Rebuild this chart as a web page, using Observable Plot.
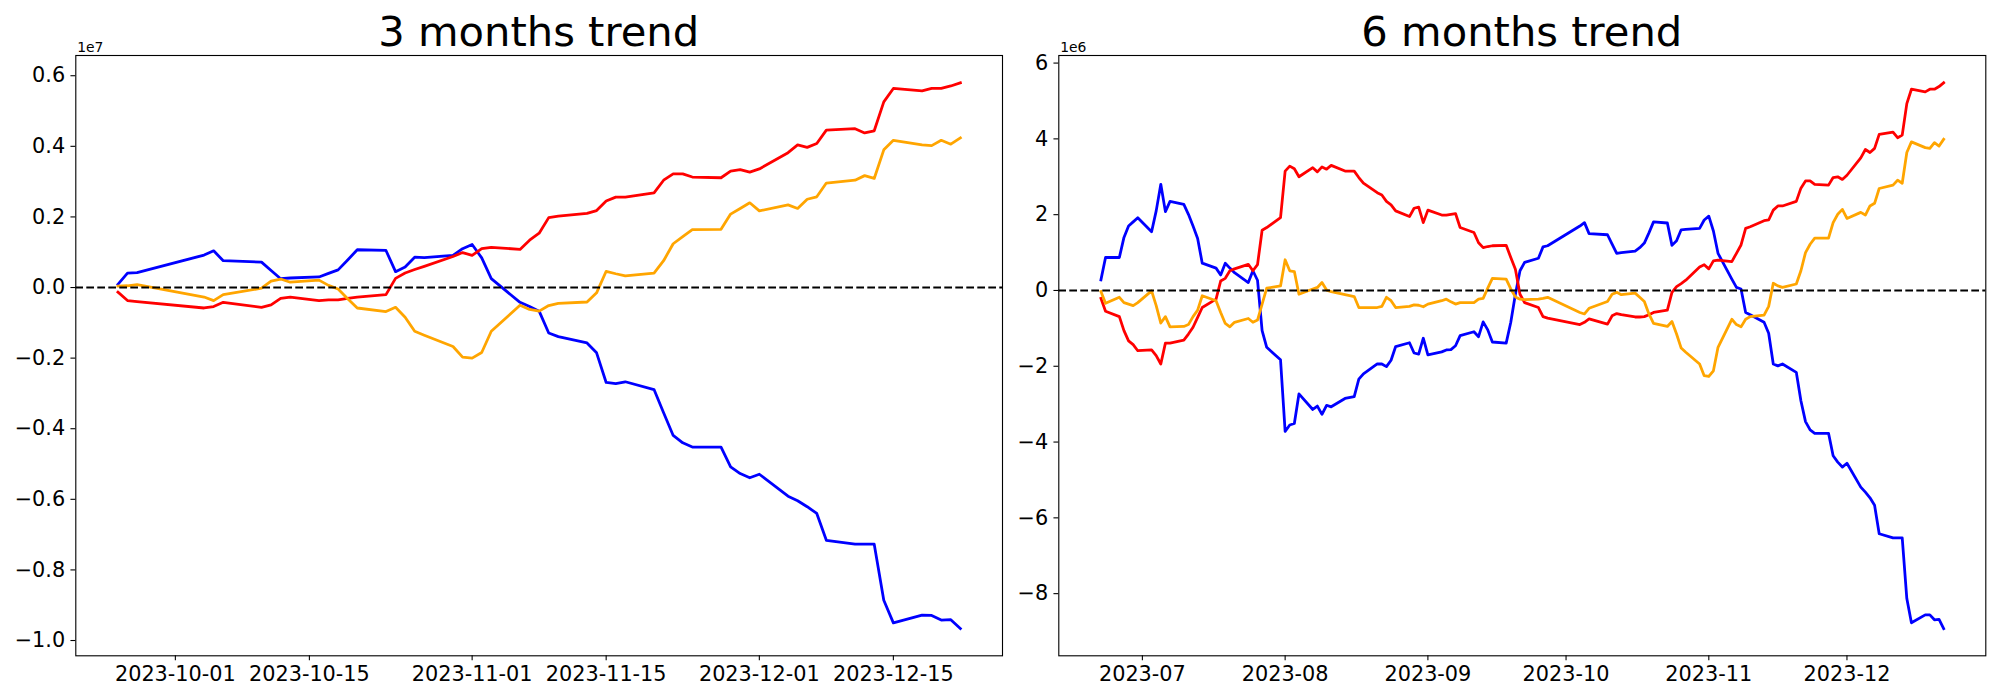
<!DOCTYPE html>
<html>
<head>
<meta charset="utf-8">
<script src="https://cdn.jsdelivr.net/npm/d3@7"></script>
<script src="https://cdn.jsdelivr.net/npm/@observablehq/plot@0.6"></script>
<style>
  body { margin: 0; background: #fff; }
  #wrap { position: relative; width: 2000px; height: 700px; overflow: hidden; font-family: "DejaVu Sans"; background: #fff; }
  .title { position: absolute; font-family: "DejaVu Sans"; font-size: 41.67px; line-height: 41.67px; color: #000; white-space: nowrap; transform: translateX(-50%); z-index: 2; }
  .chart { position: absolute; top: 40px; }
</style>
</head>
<body>
<div id="wrap">
  <div id="c1" class="chart" style="left:0px;width:1010px"></div>
  <div id="c2" class="chart" style="left:1010px;width:990px"></div>
  <div class="title" style="left:538.7px;top:11.4px">3 months trend</div>
  <div class="title" style="left:1521.8px;top:11.4px">6 months trend</div>
</div>
<script>
// ---- categories: trading days (Korean market calendar) ----
const holidays = ["2023-08-15", "2023-09-28", "2023-09-29", "2023-10-02", "2023-10-03", "2023-10-09"];
const range3m = ["2023-09-25", "2023-12-22"];
const range6m = ["2023-06-22", "2023-12-22"];

// ---- tick labels ----
const xTicks3m = ["2023-10-01", "2023-10-15", "2023-11-01", "2023-11-15", "2023-12-01", "2023-12-15"];
const xTicks6m = ["2023-07-01", "2023-08-01", "2023-09-01", "2023-10-01", "2023-11-01", "2023-12-01"];
const yTicks3m = [-1.0, -0.8, -0.6, -0.4, -0.2, 0.0, 0.2, 0.4, 0.6];
const yTicks6m = [-8, -6, -4, -2, 0, 2, 4, 6];

// ---- 3 months series (units of 1e7) ----
const red3m = [
  -0.013, -0.037, -0.040,
  -0.058, -0.054, -0.042, -0.056, -0.049, -0.031, -0.027, -0.037, -0.035, -0.035, -0.031, -0.027, -0.020, 0.026, 0.041, 0.051, 0.060, 0.088, 0.099,
  0.091, 0.110, 0.114, 0.108, 0.134, 0.154, 0.198, 0.202, 0.210, 0.218, 0.245, 0.256, 0.256, 0.268, 0.304, 0.322, 0.322, 0.313, 0.311, 0.330, 0.334, 0.327,
  0.336, 0.382, 0.404, 0.397, 0.408, 0.446, 0.450, 0.438, 0.444, 0.526, 0.564, 0.557, 0.564, 0.564, 0.571, 0.580
];
const orange3m = [
  0.004, 0.005, 0.008,
  -0.027, -0.037, -0.020, -0.002, 0.018, 0.024, 0.015, 0.021, 0.006, -0.004, -0.032, -0.058, -0.068, -0.056, -0.084, -0.124, -0.135, -0.167, -0.197,
  -0.200, -0.184, -0.124, -0.050, -0.062, -0.067, -0.051, -0.045, -0.041, -0.015, 0.046, 0.039, 0.033, 0.041, 0.076, 0.124, 0.144, 0.164, 0.165, 0.208, 0.224, 0.240,
  0.217, 0.234, 0.224, 0.250, 0.257, 0.296, 0.304, 0.317, 0.309, 0.390, 0.417, 0.404, 0.402, 0.417, 0.406, 0.424
];
const blue3m = [
  0.009, 0.041, 0.042,
  0.092, 0.104, 0.076, 0.072, 0.048, 0.025, 0.027, 0.030, 0.040, 0.050, 0.078, 0.107, 0.105, 0.045, 0.058, 0.086, 0.085, 0.091, 0.110,
  0.122, 0.084, 0.025, -0.042, -0.054, -0.067, -0.129, -0.139, -0.157, -0.185, -0.269, -0.272, -0.267, -0.289, -0.355, -0.419, -0.440, -0.452, -0.452, -0.508, -0.527, -0.539,
  -0.529, -0.591, -0.604, -0.621, -0.640, -0.716, -0.727, -0.727, -0.727, -0.886, -0.950, -0.928, -0.929, -0.942, -0.941, -0.966
];

// ---- 6 months series (units of 1e6) ----
const red6m = [
  -0.21, -0.55, -0.69, -1.06, -1.33, -1.43, -1.59,
  -1.57, -1.72, -1.94, -1.39, -1.39, -1.31, -1.15, -0.97, -0.71, -0.45, -0.23, 0.25, 0.32, 0.52, 0.57, 0.69, 0.52, 0.68, 1.59, 1.66, 1.92,
  3.15, 3.28, 3.21, 3.00, 3.24, 3.13, 3.26, 3.20, 3.30, 3.15, 3.15, 2.98, 2.83, 2.58, 2.52, 2.35, 2.26, 2.10, 1.95, 2.17, 2.20, 1.79,
  2.12, 1.99, 1.99, 2.01, 2.03, 1.66, 1.53, 1.26, 1.13, 1.16, 1.18, 1.19, 0.87, 0.56, -0.10, -0.32, -0.45, -0.69, -0.73,
  -0.90, -0.84, -0.75, -0.89, -0.67, -0.61, -0.64, -0.70, -0.70, -0.69, -0.64, -0.58, -0.52, -0.05, 0.10, 0.18, 0.27, 0.62, 0.68,
  0.57, 0.78, 0.80, 0.76, 0.98, 1.20, 1.64, 1.68, 1.84, 1.86, 2.12, 2.23, 2.23, 2.35, 2.70, 2.89, 2.89, 2.80, 2.78, 2.98, 3.00, 2.93,
  3.04, 3.50, 3.72, 3.64, 3.75, 4.12, 4.18, 4.03, 4.10, 4.93, 5.31, 5.24, 5.31, 5.31, 5.38, 5.48
];
const orange6m = [
  -0.03, -0.34, -0.18, -0.32, -0.36, -0.40, -0.32,
  -0.01, -0.40, -0.86, -0.69, -0.96, -0.95, -0.90, -0.69, -0.52, -0.14, -0.27, -0.58, -0.87, -0.96, -0.84, -0.74, -0.84, -0.78, -0.36, 0.06, 0.12,
  0.81, 0.52, 0.50, -0.10, 0.04, 0.08, 0.21, 0.01, -0.03, -0.11, -0.16, -0.45, -0.45, -0.45, -0.42, -0.18, -0.27, -0.45, -0.42, -0.38, -0.39, -0.43,
  -0.36, -0.27, -0.23, -0.30, -0.36, -0.32, -0.32, -0.23, -0.21, 0.06, 0.32, 0.30, 0.04, -0.17, -0.23, -0.24, -0.23, -0.21, -0.18,
  -0.58, -0.62, -0.47, -0.29, -0.10, -0.05, -0.11, -0.07, -0.18, -0.29, -0.62, -0.87, -0.95, -0.82, -1.15, -1.52, -1.63, -1.94, -2.25,
  -2.27, -2.12, -1.50, -0.76, -0.90, -0.96, -0.76, -0.69, -0.65, -0.42, 0.19, 0.12, 0.08, 0.17, 0.52, 1.00, 1.22, 1.38, 1.38, 1.79, 2.01, 2.14,
  1.90, 2.06, 1.99, 2.23, 2.30, 2.69, 2.78, 2.91, 2.83, 3.64, 3.92, 3.77, 3.75, 3.90, 3.81, 3.99
];
const blue6m = [
  0.28, 0.87, 0.87, 1.40, 1.70, 1.81, 1.92,
  1.55, 2.10, 2.80, 2.08, 2.35, 2.27, 2.01, 1.70, 1.37, 0.72, 0.59, 0.41, 0.72, 0.59, 0.47, 0.21, 0.52, 0.27, -1.06, -1.50, -1.83,
  -3.72, -3.55, -3.51, -2.73, -3.14, -3.05, -3.27, -3.03, -3.07, -2.85, -2.80, -2.34, -2.20, -1.94, -1.94, -2.01, -1.84, -1.48, -1.38, -1.65, -1.68, -1.26,
  -1.70, -1.62, -1.57, -1.56, -1.46, -1.19, -1.09, -1.22, -0.83, -1.04, -1.36, -1.39, -0.84, -0.10, 0.52, 0.74, 0.85, 1.15, 1.18,
  1.70, 1.79, 1.50, 1.47, 1.22, 0.98, 1.00, 1.04, 1.13, 1.25, 1.52, 1.81, 1.78, 1.19, 1.31, 1.60, 1.61, 1.64, 1.86,
  1.96, 1.57, 0.98, 0.30, 0.08, 0.04, -0.58, -0.64, -0.84, -1.13, -1.94, -1.99, -1.94, -2.16, -2.91, -3.46, -3.68, -3.77, -3.77, -4.36, -4.53, -4.66,
  -4.56, -5.19, -5.32, -5.47, -5.67, -6.42, -6.53, -6.53, -6.53, -8.13, -8.77, -8.56, -8.56, -8.69, -8.68, -8.92
];

const colors = { red: "#ff0000", orange: "#ffa500", blue: "#0000ff" };

const parse = d3.utcParse("%Y-%m-%d");
const fmtDay = d3.utcFormat("%Y-%m-%d");
function tradingDays([start, end]) {
  const hs = new Set(holidays);
  return d3.utcDays(parse(start), d3.utcDay.offset(parse(end), 1))
    .filter(d => d.getUTCDay() !== 0 && d.getUTCDay() !== 6 && !hs.has(fmtDay(d)));
}
const minus = s => s.replace("-", "\u2212");

function makeChart(opts) {
  const { dates, series, xTicks, xFmt, yTicks, yFmt, width, marginLeft, marginRight, expo } = opts;
  const all = series.flatMap(s => s.values);
  const [ymin, ymax] = d3.extent(all);
  const ypad = (ymax - ymin) * 0.05;
  const [xmin, xmax] = d3.extent(dates);
  const xpad = (xmax - xmin) * 0.05;
  const marks = series.map(s =>
    Plot.line(s.values.map((v, i) => ({ date: dates[i], value: v })), {
      x: "date", y: "value", stroke: s.color, strokeWidth: 2.78, strokeLinejoin: "round", strokeLinecap: "square"
    })
  );
  return Plot.plot({
    width, height: 660,
    marginTop: 15, marginBottom: 44.7, marginLeft, marginRight,
    x: { type: "utc", domain: [new Date(+xmin - xpad), new Date(+xmax + xpad)] },
    y: { domain: [ymin - ypad, ymax + ypad] },
    style: { fontFamily: "DejaVu Sans", fontSize: "20.8px", color: "black", background: "transparent", overflow: "visible" },
    marks: [
      ...marks,
      Plot.ruleY([0], { stroke: "black", strokeWidth: 2.08, strokeDasharray: "7.7,3.3" }),
      Plot.axisX(xTicks.map(parse), { tickFormat: xFmt, tickSize: 4.86, tickPadding: 5.8, fontSize: 20.8, label: null, strokeWidth: 1.1 }),
      Plot.axisY(yTicks, { tickFormat: yFmt, tickSize: 4.86, tickPadding: 5.8, fontSize: 20.8, label: null, strokeWidth: 1.1 }),
      Plot.frame({ stroke: "black", strokeWidth: 1.11 }),
      Plot.text([expo], { frameAnchor: "top-left", text: d => d, textAnchor: "start", lineAnchor: "bottom", dx: 1.4, dy: -3.5, fontSize: 13.9 })
    ]
  });
}

const dates3m = tradingDays(range3m);
const dates6m = tradingDays(range6m);

document.getElementById("c1").append(makeChart({
  dates: dates3m,
  series: [
    { values: blue3m, color: colors.blue },
    { values: red3m, color: colors.red },
    { values: orange3m, color: colors.orange }
  ],
  xTicks: xTicks3m, xFmt: d3.utcFormat("%Y-%m-%d"),
  yTicks: yTicks3m, yFmt: d => minus(d.toFixed(1)),
  width: 1010, marginLeft: 75.3, marginRight: 8, expo: "1e7"
}));

document.getElementById("c2").append(makeChart({
  dates: dates6m,
  series: [
    { values: blue6m, color: colors.blue },
    { values: red6m, color: colors.red },
    { values: orange6m, color: colors.orange }
  ],
  xTicks: xTicks6m, xFmt: d3.utcFormat("%Y-%m"),
  yTicks: yTicks6m, yFmt: d => minus(String(d)),
  width: 990, marginLeft: 48.3, marginRight: 14.7, expo: "1e6"
}));
</script>
</body>
</html>
